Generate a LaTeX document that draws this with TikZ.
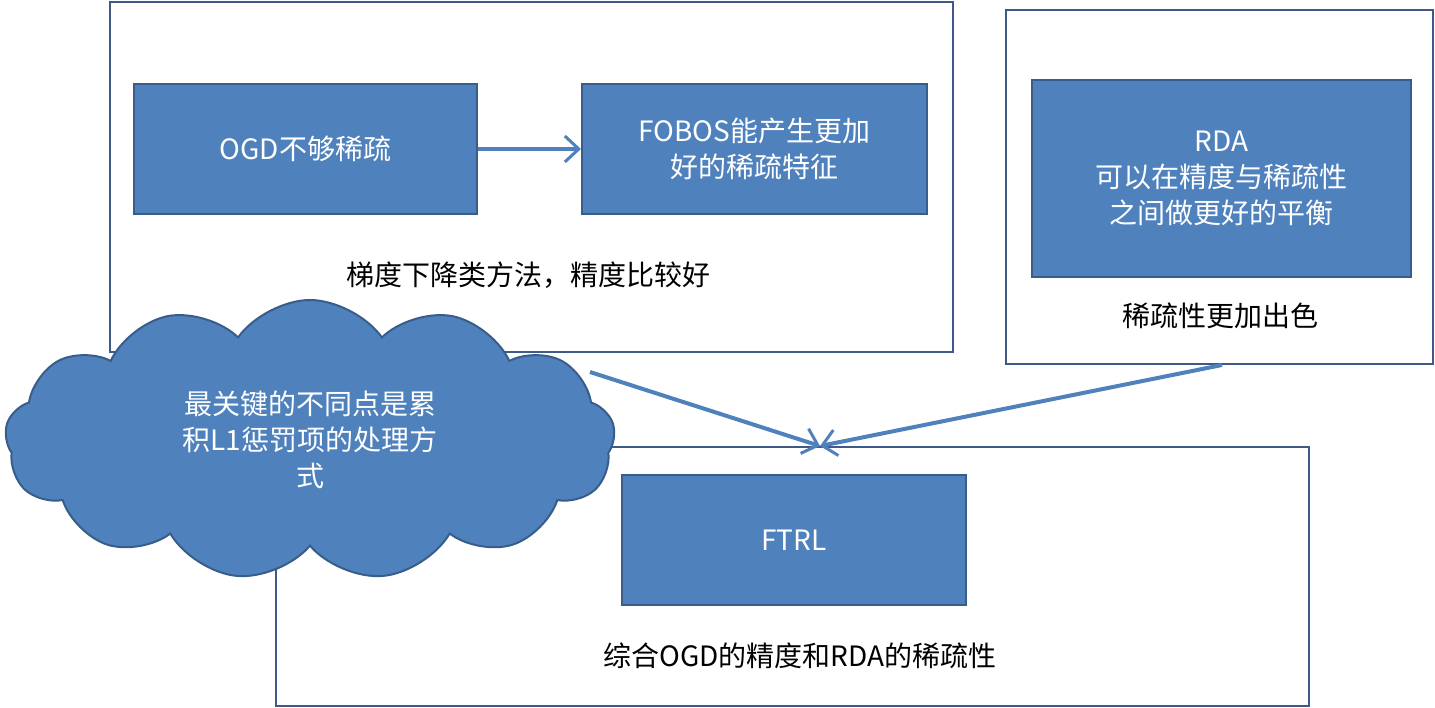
\documentclass[tikz,border=0pt]{standalone}
\usepackage{fontspec}
\newfontfamily\cjk{Noto Sans CJK SC}
\usetikzlibrary{shapes.symbols,arrows.meta}
\definecolor{fillb}{HTML}{4F81BD}
\definecolor{edgeb}{HTML}{385D8A}
\definecolor{frameb}{HTML}{3F5A86}
\begin{document}
\begin{tikzpicture}[x=1pt,y=-1pt,font=\cjk\fontsize{28}{36}\selectfont,
  frame/.style={draw=frameb,line width=2.5pt,fill=white},
  blue/.style={draw=edgeb,line width=2pt,fill=fillb,text=white,align=center,anchor=north west,inner sep=0pt},
  arr/.style={draw=fillb,line width=4pt,-{Straight Barb[length=14pt,width=26pt,line width=3pt]}}]
\useasboundingbox (0,0) rectangle (1435,708);
\draw[frame] (110,2) rectangle (953,352);
\draw[frame] (1006,10) rectangle (1433,364);
\draw[frame] (276,447) rectangle (1309,706);
\node[blue,minimum width=343pt,minimum height=130pt] (ogd) at (133,83) {OGD不够稀疏};
\node[blue,minimum width=345pt,minimum height=130pt] (fobos) at (581,83) {FOBOS能产生更加\\好的稀疏特征};
\node (t1) at (528,275) {梯度下降类方法，精度比较好};
\node[blue,minimum width=379pt,minimum height=197pt] (rda) at (1031,79) {RDA\\可以在精度与稀疏性\\之间做更好的平衡};
\node (t2) at (1220,316) {稀疏性更加出色};
\node[blue,minimum width=344pt,minimum height=130pt] (ftrl) at (621,474) {FTRL};
\node (t3) at (800,656) {综合OGD的精度和RDA的稀疏性};
\node[cloud,cloud puffs=13,cloud puff arc=110,aspect=2.1,draw=edgeb,line width=2pt,fill=fillb,text=white,align=center,minimum width=610pt,minimum height=280pt,inner sep=0pt] (cl) at (310,440) {最关键的不同点是累\\积L1惩罚项的处理方\\式};
\coordinate (c1) at (590,372);
\coordinate (m) at (820,446);
\coordinate (r1) at (1222,365);
\draw[arr] (ogd.east) -- (fobos.west);
\draw[arr] (c1) -- (m);
\draw[arr] (r1) -- (m);
\end{tikzpicture}
\end{document}
